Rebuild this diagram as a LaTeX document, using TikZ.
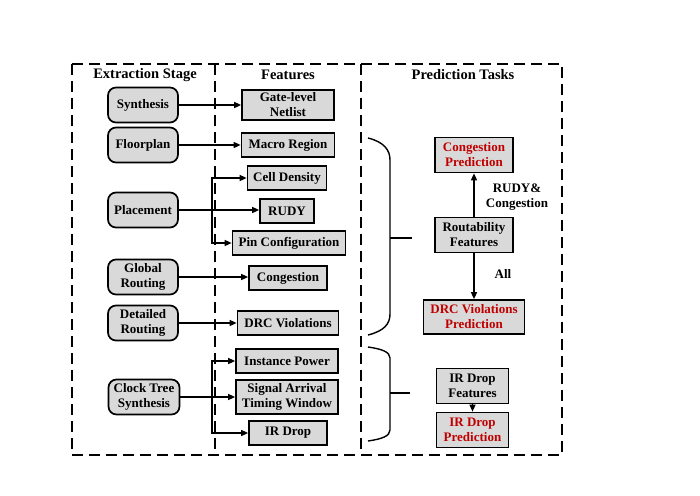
\documentclass[tikz,border=0pt]{standalone}
\usepackage{fontspec}
\setmainfont{Liberation Serif}
\usetikzlibrary{arrows.meta,calc}
\definecolor{boxgray}{RGB}{217,217,217}
\definecolor{predred}{RGB}{192,0,0}
\tikzset{
  every node/.style={font=\fontsize{13}{15}\selectfont\bfseries, align=center, inner sep=0pt},
  stage/.style={draw, line width=1.7pt, fill=boxgray, rounded corners=8pt, minimum width=70pt, minimum height=35pt},
  feat/.style={draw, line width=1.7pt, fill=boxgray, minimum height=24pt},
  pred/.style={draw, line width=1.7pt, fill=boxgray, minimum height=35pt},
  hdr/.style={font=\fontsize{14.5}{16}\selectfont\bfseries},
  arr/.style={line width=1.4pt, -{Triangle[length=7pt,width=6pt]}},
  frame/.style={line width=1.7pt, dash pattern=on 11pt off 6pt},
  brc/.style={line width=1.4pt}
}
\begin{document}
\begin{tikzpicture}[x=1pt,y=-1pt]
\useasboundingbox (0,0) rectangle (700,495);
% frames
\draw[frame] (72,64) rectangle (562,455);
\draw[frame] (215,64) -- (215,455);
\draw[frame] (361,64) -- (361,455);
% headers
\node[hdr] (h1) at (145,75) {Extraction Stage};
\node[hdr] (h2) at (288,75) {Features};
\node[hdr] (h3) at (463,75) {Prediction Tasks};
% stages
\node[stage] (syn) at (143,105) {Synthesis};
\node[stage] (flp) at (143,145) {Floorplan};
\node[stage] (plc) at (143,210) {Placement};
\node[stage] (grt) at (143,277) {Global\\Routing};
\node[stage] (drt) at (143,323) {Detailed\\Routing};
\node[stage, minimum width=71pt] (cts) at (144,397) {Clock Tree\\Synthesis};
% features
\node[feat, minimum width=92pt, minimum height=30pt] (gate) at (288,105) {Gate-level\\Netlist};
\node[feat, minimum width=93pt] (macro) at (288,145) {Macro Region};
\node[feat, minimum width=79pt] (cd) at (287,178) {Cell Density};
\node[feat, minimum width=54pt] (rudy) at (287,211) {RUDY};
\node[feat, minimum width=113pt] (pin) at (289,243) {Pin Configuration};
\node[feat, minimum width=78pt] (cong) at (288,278) {Congestion};
\node[feat, minimum width=101pt] (drcv) at (288,323) {DRC Violations};
\node[feat, minimum width=102pt] (ip) at (287,361) {Instance Power};
\node[feat, minimum width=102pt, minimum height=34pt] (sat) at (287,397) {Signal Arrival\\Timing Window};
\node[feat, minimum width=78pt] (ird) at (288,433) {IR Drop};
% stage -> feature
\draw[arr] (syn.east) -- (syn.east -| gate.west);
\draw[arr] (flp.east) -- (flp.east -| macro.west);
\draw[arr] (plc.east) -- (plc.east -| rudy.west);
\coordinate (pb) at (212,210);
\draw[arr] (pb) |- (cd.west);
\draw[arr] (pb) |- (pin.west);
\draw[arr] (grt.east) -- (grt.east -| cong.west);
\draw[arr] (drt.east) -- (drt.east -| drcv.west);
\draw[arr] (cts.east) -- (cts.east -| sat.west);
\coordinate (cb) at (212,397);
\draw[arr] (cb) |- (ip.west);
\draw[arr] (cb) |- (ird.west);
% braces
\draw[brc] (368,138) .. controls (384,142) and (390,150) .. (390,160) -- (390,314) .. controls (390,324) and (384,331) .. (368,335);
\draw[brc] (390,238) -- (412,238);
\draw[brc] (368,347) .. controls (382,349) and (390,352) .. (390,358) -- (390,430) .. controls (390,436) and (382,439) .. (368,441);
\draw[brc] (390,393) -- (410,393);
% prediction
\node[pred, minimum width=78pt, text=predred] (cp) at (474,155) {Congestion\\Prediction};
\node[pred, minimum width=78pt] (rf) at (474,235) {Routability\\Features};
\node[pred, minimum width=101pt, minimum height=34pt, text=predred] (dp) at (474,317) {DRC Violations\\Prediction};
\node[pred, minimum width=72pt] (irf) at (472.5,386) {IR Drop\\Features};
\node[pred, minimum width=72pt, text=predred] (irp) at (472.5,430) {IR Drop\\Prediction};
\draw[arr] (rf.north) -- (cp.south);
\draw[arr] (rf.south) -- (dp.north);
\draw[arr] (irf.south) -- (irp.north);
\node (l1) at (517,197) {RUDY\&\\Congestion};
\node (l2) at (503,274) {All};
\end{tikzpicture}
\end{document}
